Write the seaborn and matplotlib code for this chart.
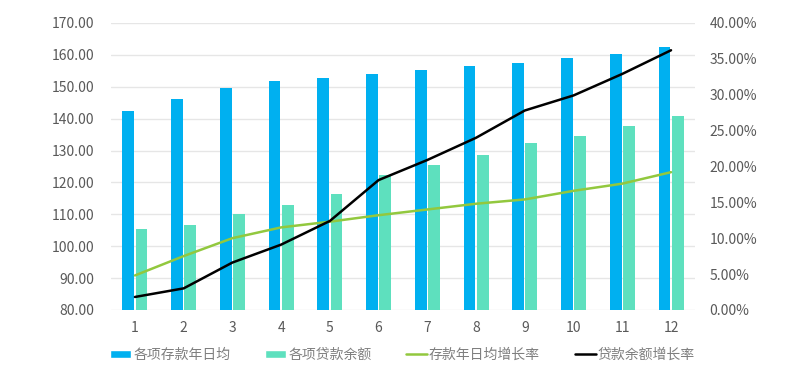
import numpy as np
import pandas as pd
import matplotlib
matplotlib.use("Agg")
import matplotlib.pyplot as plt
import seaborn as sns
from matplotlib.ticker import FuncFormatter
from matplotlib.patches import Patch
from matplotlib.lines import Line2D

# 月份与各序列数值
months = [str(i) for i in range(1, 13)]
deposit_avg = [142.5, 146.2, 149.7, 151.8, 152.9, 153.9, 155.3, 156.4, 157.6, 159.0, 160.3, 162.4]
loan_balance = [105.3, 106.6, 110.1, 112.8, 116.5, 122.3, 125.4, 128.6, 132.3, 134.6, 137.7, 140.9]
deposit_growth = [4.8, 7.5, 10.0, 11.5, 12.3, 13.2, 14.0, 14.8, 15.4, 16.6, 17.6, 19.2]
loan_growth = [1.8, 3.0, 6.6, 9.1, 12.4, 18.1, 20.9, 24.0, 27.8, 29.9, 32.9, 36.2]

bar_names = ["各项存款年日均", "各项贷款余额"]
line_names = ["存款年日均增长率", "贷款余额增长率"]
bar_colors = ["#00B0F0", "#5EE0BE"]
line_colors = ["#92C83E", "#000000"]

sns.set_style("white")
plt.rcParams["font.family"] = ["Noto Sans CJK SC", "DejaVu Sans"]

bars = pd.DataFrame({
    "month": months * 2,
    "value": deposit_avg + loan_balance,
    "series": [bar_names[0]] * 12 + [bar_names[1]] * 12,
})
lines = pd.DataFrame({
    "month": months * 2,
    "rate": [v / 100 for v in deposit_growth + loan_growth],
    "series": [line_names[0]] * 12 + [line_names[1]] * 12,
})

fig = plt.figure(figsize=(8.1, 3.65), dpi=100)
ax = fig.add_axes([0.1365, 0.151, 0.722, 0.786])

sns.barplot(data=bars, x="month", y="value", hue="series", palette=bar_colors,
            width=0.54, gap=0.1, linewidth=0, ax=ax, legend=False, saturation=1)
ax.set_ylim(80, 170)
ax.set_yticks(np.arange(80, 171, 10))
ax.yaxis.set_major_formatter(FuncFormatter(lambda v, p: f"{v:.2f}"))
ax.grid(axis="y", color="#E6E6E6", linewidth=1)
ax.set_axisbelow(True)
ax.set_xlabel("")
ax.set_ylabel("")

ax2 = ax.twinx()
sns.lineplot(data=lines, x="month", y="rate", hue="series", palette=line_colors,
             ax=ax2, legend=False, linewidth=1.8, sort=False)
ax2.set_ylim(0, 0.40)
ax2.set_yticks(np.arange(0, 0.401, 0.05))
ax2.yaxis.set_major_formatter(FuncFormatter(lambda v, p: f"{v * 100:.2f}%"))
ax2.set_xlabel("")
ax2.set_ylabel("")
ax2.set_xlim(-0.5, 11.5)
ax.set_xlim(-0.5, 11.5)

for a in (ax, ax2):
    for s in a.spines.values():
        s.set_visible(False)
    a.tick_params(axis="both", length=0, labelsize=10, colors="#595959")
ax.tick_params(axis="y", pad=12)
ax2.tick_params(axis="y", pad=10)
ax.tick_params(axis="x", pad=8)

handles = [
    Patch(facecolor=bar_colors[0], label=bar_names[0]),
    Patch(facecolor=bar_colors[1], label=bar_names[1]),
    Line2D([0], [0], color=line_colors[0], lw=1.8, label=line_names[0]),
    Line2D([0], [0], color=line_colors[1], lw=1.8, label=line_names[1]),
]
leg = fig.legend(handles=handles, loc="lower center", ncol=4, frameon=False,
                 bbox_to_anchor=(0.497, -0.025), fontsize=10, handlelength=1.5,
                 handleheight=0.5, handletextpad=0.15, columnspacing=2.5)
for t in leg.get_texts():
    t.set_color("#7F7F7F")

fig.savefig("out.png", dpi=100, facecolor="white")
